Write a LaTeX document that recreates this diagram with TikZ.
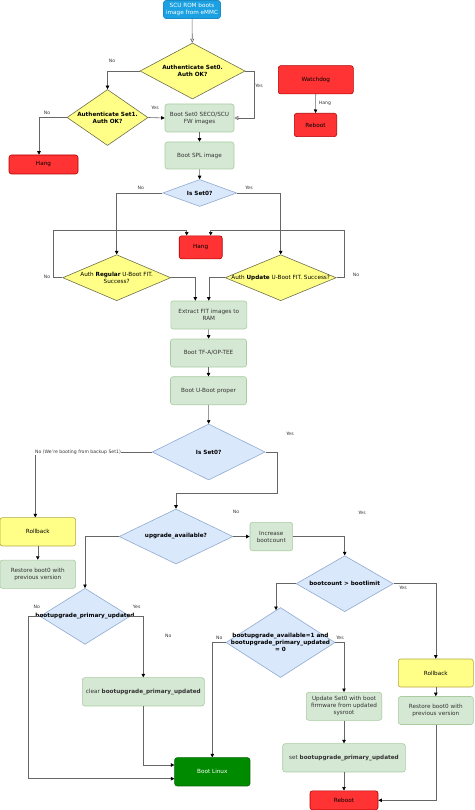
\documentclass[tikz,border=0pt]{standalone}
\usepackage{fontspec}
\setmainfont{DejaVu Sans}
\usetikzlibrary{shapes.geometric,arrows.meta}
\definecolor{romfill}{HTML}{1BA1E2}
\definecolor{romdraw}{HTML}{1A8CC8}
\definecolor{stepfill}{HTML}{D5E8D4}
\definecolor{stepdraw}{HTML}{A9CBA0}
\definecolor{steptext}{HTML}{333333}
\definecolor{failfill}{HTML}{FF3333}
\definecolor{faildraw}{HTML}{B20000}
\definecolor{authfill}{HTML}{FFFF88}
\definecolor{authdraw}{HTML}{6E6E4A}
\definecolor{rollfill}{HTML}{FFFF88}
\definecolor{rolldraw}{HTML}{B5A642}
\definecolor{checkfill}{HTML}{DAE8FC}
\definecolor{checkdraw}{HTML}{8FA9D0}
\definecolor{linuxfill}{HTML}{008A00}
\definecolor{linuxdraw}{HTML}{006400}
\definecolor{flowgray}{HTML}{666666}
\definecolor{labelgray}{HTML}{333333}
\tikzset{
    every node/.style={font=\fontsize{5.7}{7}\selectfont},
    % --- boxes ---
    box/.style={rectangle, rounded corners=2.5pt, inner sep=0pt, align=center, line width=0.6pt},
    romblock/.style={box, draw=romdraw, fill=romfill, text=white},
    stepbox/.style={box, draw=stepdraw, fill=stepfill, text=steptext},
    failbox/.style={box, draw=faildraw, fill=failfill},
    rollbox/.style={box, draw=rolldraw, fill=rollfill},
    linuxbox/.style={box, draw=linuxdraw, fill=linuxfill, text=white},
    % --- decisions ---
    authdec/.style={diamond, draw=authdraw, fill=authfill, inner sep=0pt, line width=0.6pt},
    checkdec/.style={diamond, draw=checkdraw, fill=checkfill, inner sep=0pt, line width=0.6pt},
    % --- connectors ---
    flow/.style={draw=flowgray, line width=0.6pt, -{Triangle[length=3.5pt,width=3.5pt,color=black]}},
    openflow/.style={draw=flowgray, line width=0.6pt, -{Triangle[open,length=4pt,width=4pt,color=flowgray]}},
    edgelabel/.style={font=\fontsize{4.6}{5.5}\selectfont, text=labelgray, inner sep=0.5pt}
}

\begin{document}
\begin{tikzpicture}[x=1pt,y=-1pt]
    \useasboundingbox (0,0) rectangle (474,810);

    % top part
    \node[romblock, minimum width=57, minimum height=18] (scu) at (192,9.5) {SCU ROM boots\\image from eMMC};
    \node[authdec, minimum width=105, minimum height=56,
          label={[align=center]center:{\textbf{Authenticate Set0.}\\\textbf{Auth OK?}}}] (auth0) at (192.5,71) {};
    \node[authdec, minimum width=81, minimum height=56,
          label={[align=center]center:{\textbf{Authenticate Set1.}\\\textbf{Auth OK?}}}] (auth1) at (107.5,117.5) {};
    \node[failbox, minimum width=69, minimum height=19] (hangA) at (43.5,164.5) {Hang};
    \node[stepbox, minimum width=69, minimum height=28] (seco) at (199.5,118) {Boot Set0 SECO/SCU\\FW images};
    \node[stepbox, minimum width=69, minimum height=27] (spl) at (199.5,155.5) {Boot SPL image};
    \node[failbox, minimum width=75, minimum height=28.3] (watchdog) at (315.8,79.8) {Watchdog};
    \node[failbox, minimum width=42.4, minimum height=23.4] (rebootA) at (315.5,125) {Reboot};

    % U-Boot FIT
    \node[checkdec, minimum width=74, minimum height=27,
          label={center:\textbf{Is Set0?}}] (isset0a) at (199.7,193) {};
    \node[failbox, minimum width=43, minimum height=23] (hangB) at (200.7,247.3) {Hang};
    \node[authdec, minimum width=108, minimum height=46,
          label={[align=center]center:{Auth \textbf{Regular} U-Boot FIT.\\Success?}}] (authreg) at (116.7,277.7) {};
    \node[authdec, minimum width=111, minimum height=46,
          label={center:{Auth \textbf{Update} U-Boot FIT. Success?}}] (authupd) at (280.7,277.7) {};
    \node[stepbox, minimum width=76, minimum height=28] (extract) at (208.8,315) {Extract FIT images to\\RAM};
    \node[stepbox, minimum width=76, minimum height=28] (tfa) at (208.5,353) {Boot TF-A/OP-TEE};
    \node[stepbox, minimum width=76, minimum height=28] (uboot) at (208.5,390.7) {Boot U-Boot proper};
    \node[checkdec, minimum width=113, minimum height=56,
          label={center:\textbf{Is Set0?}}] (isset0b) at (208.7,452) {};

    % boot counting
    \node[rollbox, minimum width=75.7, minimum height=28.3] (rollA) at (37.8,531.8) {Rollback};
    \node[stepbox, minimum width=75.7, minimum height=28.3] (restA) at (37.8,574.2) {Restore boot0 with\\previous version};
    \node[checkdec, minimum width=114, minimum height=55,
          label={center:\textbf{upgrade\_available?}}] (upavail) at (176,536.5) {};
    \node[stepbox, minimum width=42.7, minimum height=28.4] (incr) at (271.3,536.5) {Increase\\bootcount};
    \node[checkdec, minimum width=97, minimum height=56,
          label={center:\textbf{bootcount > bootlimit}}] (bclim) at (344.7,583.7) {};
    \node[checkdec, minimum width=90, minimum height=56,
          label={center:\textbf{bootupgrade\_primary\_updated}}] (primupd) at (85,616.3) {};
    \node[checkdec, minimum width=109, minimum height=70,
          label={[align=center]center:{\textbf{bootupgrade\_available=1 and}\\\textbf{bootupgrade\_primary\_updated}\\\textbf{= 0}}}] (bua) at (280.5,642.5) {};
    \node[stepbox, minimum width=122, minimum height=28.3] (clear) at (143.3,691.8) {clear \textbf{bootupgrade\_primary\_updated}};
    \node[linuxbox, minimum width=75.3, minimum height=28.3] (linux) at (212.3,771.8) {Boot Linux};
    \node[rollbox, minimum width=75, minimum height=28] (rollB) at (435.8,673) {Rollback};
    \node[stepbox, minimum width=75, minimum height=28] (restB) at (435.8,710.5) {Restore boot0 with\\previous version};
    \node[stepbox, minimum width=75.4, minimum height=28] (update) at (344,706.3) {Update Set0 with boot\\firmware from updated\\sysroot};
    \node[stepbox, minimum width=122.6, minimum height=28.3] (setp) at (344,757.8) {set \textbf{bootupgrade\_primary\_updated}};
    \node[failbox, minimum width=68, minimum height=19] (rebootB) at (344,800.3) {Reboot};

    % connectors
    \draw[openflow] (scu) -- (auth0);
    \draw[flow] (auth0.west) -| (auth1.north);
    \draw[openflow] (auth0.east) -- ++(9,0) |- (seco.east);
    \draw[flow] (auth1.west) -| ([xshift=-4.5]hangA.north);
    \draw[flow] (auth1.east) -- (seco.west);
    \draw[flow] (seco) -- (spl);
    \draw[flow] (spl) -- (isset0a);
    \draw[flow] (watchdog) -- (rebootA);

    \draw[flow] (isset0a.west) -| (authreg.north);
    \draw[flow] (isset0a.east) -| (authupd.north);
    \draw[flow] (authreg.west) -- ++(-8.7,0) |- ([xshift=-14,yshift=5]hangB.north) -- ([xshift=-14]hangB.north);
    \draw[flow] (authupd.east) -- ++(8,0) |- ([xshift=10,yshift=5]hangB.north) -- ([xshift=10]hangB.north);
    \draw[flow] (authreg.east) -| ([xshift=-13.5]extract.north);
    \draw[flow] (authupd.west) -| (extract.north);
    \draw[flow] (extract) -- (tfa);
    \draw[flow] (tfa) -- (uboot);
    \draw[flow] (uboot) -- (isset0b);

    \draw[flow] (isset0b.west) -| ([xshift=-2.5]rollA.north);
    \draw[flow] (isset0b.east) -- ++(11.3,0) |- ([yshift=15]upavail.north) -- (upavail.north);
    \draw[flow] (rollA) -- (restA);
    \draw[flow] (upavail.east) -- (incr.west);
    \draw[flow] (upavail.west) -| (primupd.north);
    \draw[flow] (incr.east) -| (bclim.north);
    \draw[flow] (bclim.west) -| ([xshift=-4.5,yshift=-2.9]bua.north);
    \draw[flow] (bclim.east) -| (rollB.north);
    \draw[flow] (primupd.west) -- ++(-11.3,0) |- ([yshift=-6.9]linux.west);
    \draw[flow] (primupd.east) -| (clear.north);
    \draw[flow] (clear.south) |- ([yshift=6.8]linux.west);
    \draw[flow] (bua.west) -| (linux.north);
    \draw[flow] (bua.east) -| (update.north);
    \draw[flow] (update) -- (setp);
    \draw[flow] (setp) -- (rebootB);
    \draw[flow] (rollB) -- (restB);
    \draw[flow] (restB.south) |- (rebootB.east);

    % labels
    \node[edgelabel] (l1) at (112,61) {No};
    \node[edgelabel] (l2) at (259,86) {Yes};
    \node[edgelabel] (l3) at (47,113) {No};
    \node[edgelabel] (l4) at (155,108) {Yes};
    \node[edgelabel] (l5) at (325,103.3) {Hang};
    \node[edgelabel] (l6) at (140.7,188) {No};
    \node[edgelabel] (l7) at (249,188) {Yes};
    \node[edgelabel] (l8) at (47,277) {No};
    \node[edgelabel] (l9) at (356,275) {No};
    \node[edgelabel, fill=white] (l10) at (78,452.5) {No (We're booting from backup Set1)};
    \node[edgelabel] (l11) at (290,434.3) {Yes};
    \node[edgelabel] (l12) at (236,512) {No};
    \node[edgelabel] (l13) at (362,513.3) {Yes};
    \node[edgelabel] (l14) at (403,588.3) {Yes};
    \node[edgelabel] (l15) at (36.7,607.3) {No};
    \node[edgelabel] (l16) at (136.7,607.3) {Yes};
    \node[edgelabel] (l17) at (168.3,635.7) {No};
    \node[edgelabel] (l18) at (219.3,637.7) {No};
    \node[edgelabel] (l19) at (340,637.7) {Yes};
\end{tikzpicture}
\end{document}
